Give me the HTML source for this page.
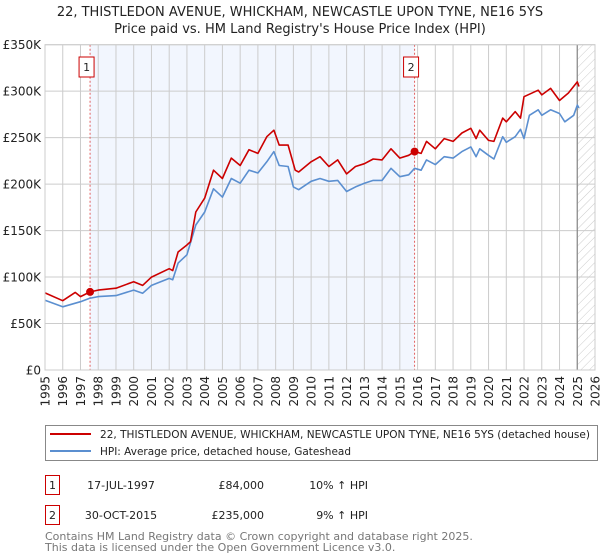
<!DOCTYPE html>
<html><head><meta charset="utf-8"><style>
body{margin:0;background:#fff;font-family:"Liberation Sans","DejaVu Sans",sans-serif;}
#wrap{position:relative;width:600px;height:560px;overflow:hidden;}
svg text{font-family:"DejaVu Sans","Liberation Sans",sans-serif;}
</style></head><body><div id="wrap">
<svg id="chart" width="600" height="560"></svg>
</div>
<script>
const yearTicks=[1995,1996,1997,1998,1999,2000,2001,2002,2003,2004,2005,2006,2007,2008,2009,2010,2011,2012,2013,2014,2015,2016,2017,2018,2019,2020,2021,2022,2023,2024,2025,2026];
const valueTicks=[0,50000,100000,150000,200000,250000,300000,350000];
const valueTickLabels=["£0","£50K","£100K","£150K","£200K","£250K","£300K","£350K"];
const hpiYears=[1995,1996,1997,1997.5,1998,1999,2000,2000.5,2001,2002,2002.2,2002.5,2003,2003.5,2004,2004.5,2005,2005.5,2006,2006.5,2007,2007.5,2007.9,2008.2,2008.7,2009,2009.3,2010,2010.5,2011,2011.5,2012,2012.5,2013,2013.5,2014,2014.5,2015,2015.5,2015.83,2016.2,2016.5,2017,2017.5,2018,2018.5,2019,2019.3,2019.5,2020,2020.3,2020.8,2021,2021.5,2021.8,2022,2022.3,2022.8,2023,2023.5,2024,2024.3,2024.8,2025,2025.1];
const hpiValues=[75000,68000,73500,77000,79000,80000,86000,82500,91000,98600,97000,115000,124000,156000,170000,195000,186000,206000,201000,215000,212000,224000,235000,220000,219000,197000,194000,203000,206000,203000,204000,192000,197000,201000,204000,204000,217000,208000,210000,217000,215000,226000,221000,229500,228000,235000,240000,229500,238000,231000,227000,251000,245000,251000,259000,249000,274000,280000,274000,280000,276000,267000,274000,285000,282000];
const priceYears=[1995,1996,1996.7,1997,1997.54,1998,1999,2000,2000.5,2001,2002,2002.2,2002.5,2003,2003.2,2003.5,2004,2004.5,2005,2005.5,2006,2006.5,2007,2007.5,2007.9,2008.2,2008.7,2009.1,2009.3,2010,2010.5,2011,2011.5,2012,2012.5,2013,2013.5,2014,2014.5,2015,2015.5,2015.83,2016.2,2016.5,2017,2017.5,2018,2018.5,2019,2019.3,2019.5,2020,2020.3,2020.8,2021,2021.5,2021.8,2022,2022.8,2023,2023.5,2024,2024.5,2025,2025.1];
const priceValues=[83000,74600,83500,79000,84000,86000,88000,95000,91000,100000,109000,107000,127000,134500,138000,170000,185000,215000,206000,228000,220000,237000,233000,251000,258000,242000,242000,215000,213000,224000,229500,219000,226000,211000,219000,222000,227000,226000,238000,228000,231000,235000,233000,246000,238000,249000,246000,255000,260000,249000,258000,247000,246000,271000,267000,278000,271000,294000,301000,296000,303000,290000,298000,310000,305000];
const saleYears=[1997.54,2015.83];
const saleValues=[84000,235000];
const saleLabels=["1","2"];

const NS="http://www.w3.org/2000/svg";
const svg=document.getElementById('chart');
const L=45,R=595,T=44.7,B=370;
const X=y=>L+(y-1995)/(2026-1995)*(R-L);
const Y=v=>B-v/350000*(B-T);
function mk(tag,attrs,parent){const e=document.createElementNS(NS,tag);for(const k in attrs)e.setAttribute(k,attrs[k]);(parent||svg).appendChild(e);return e;}

const defs=mk('defs',{});
const pat=mk('pattern',{id:'hatch',width:6,height:6,patternUnits:'userSpaceOnUse',patternTransform:'rotate(45)'},defs);
mk('line',{x1:0,y1:0,x2:0,y2:6,stroke:'#ccc','stroke-width':1},pat);

let shade=mk('rect',{x:X(saleYears[0]),y:T,width:X(saleYears[1])-X(saleYears[0]),height:B-T,fill:'#eef3fd',opacity:0.75});


let hatch=mk('rect',{x:X(2025.0),y:T,width:R-X(2025.0),height:B-T,fill:'url(#hatch)'});



yearTicks.forEach(yr=>{
  let g=mk('line',{x1:X(yr),x2:X(yr),y1:T,y2:B,stroke:'#cccccc','stroke-width':1});
  
  
  let t=mk('text',{x:0,y:0,'font-size':12,fill:'#222','text-anchor':'end',transform:`translate(${X(yr)+4.5},${B+6}) rotate(-90)`});
  t.textContent=yr;
  
  
});
valueTicks.forEach((v,i)=>{
  let g=mk('line',{x1:L,x2:R,y1:Y(v),y2:Y(v),stroke:'#cccccc','stroke-width':1});
  
  
  let t=mk('text',{x:L-4,y:Y(v)+4.5,'font-size':12,fill:'#222','text-anchor':'end'});
  t.textContent=valueTickLabels[i];
  
  
});
let vl=mk('line',{x1:X(2025.0),x2:X(2025.0),y1:T,y2:B,stroke:'#888','stroke-width':1.2});



saleYears.forEach((yr,i)=>{
  let l=mk('line',{x1:X(yr),x2:X(yr),y1:T,y2:B,stroke:'#e06060','stroke-width':1,'stroke-dasharray':'2,2'});
  
  
  let b=mk('rect',{x:X(yr)-11,y:57,width:15,height:20,fill:'#fff',stroke:'#c00','stroke-width':1});
  
  
  let t=mk('text',{x:X(yr)-3.5,y:71,'font-size':11,fill:'#222','text-anchor':'middle'});
  t.textContent=saleLabels[i];
  
  
});

function path(xs,vs){return xs.map((x,i)=>(i?'L':'M')+X(x).toFixed(1)+','+Y(vs[i]).toFixed(1)).join(' ');}
let hp=mk('path',{d:path(hpiYears,hpiValues),fill:'none',stroke:'#5b8fd0','stroke-width':1.6,'stroke-linejoin':'round'});


let pp=mk('path',{d:path(priceYears,priceValues),fill:'none',stroke:'#cc0000','stroke-width':1.6,'stroke-linejoin':'round'});


saleYears.forEach((yr,i)=>{
  let c=mk('circle',{cx:X(yr),cy:Y(saleValues[i]),r:4,fill:'#cc0000'});
  
  
});
let frame=mk('rect',{x:L,y:T,width:R-L,height:B-T,fill:'none',stroke:'#cccccc','stroke-width':1});



[["22, THISTLEDON AVENUE, WHICKHAM, NEWCASTLE UPON TYNE, NE16 5YS",16],["Price paid vs. HM Land Registry's House Price Index (HPI)",33]].forEach((s,i)=>{
  let t=mk('text',{x:300,y:s[1],'font-size':13,fill:'#222','text-anchor':'middle'});
  t.textContent=s[0];
  
  
});

let lg=mk('rect',{x:45.5,y:425.5,width:552,height:35,fill:'#fff',stroke:'#888','stroke-width':1});


[["22, THISTLEDON AVENUE, WHICKHAM, NEWCASTLE UPON TYNE, NE16 5YS (detached house)",'#cc0000',434,490],["HPI: Average price, detached house, Gateshead",'#5b8fd0',451,251]].forEach((s,i)=>{
  let l=mk('line',{x1:50,x2:91,y1:s[2],y2:s[2],stroke:s[1],'stroke-width':2});
  
  
  let t=mk('text',{x:100,y:s[2]+4,'font-size':11,fill:'#222',textLength:s[3],lengthAdjust:'spacingAndGlyphs'});
  t.textContent=s[0];
  
  
});

[["1","17-JUL-1997","£84,000","10% ↑ HPI",485],["2","30-OCT-2015","£235,000","9% ↑ HPI",515]].forEach(r=>{
  let b=mk('rect',{x:45.5,y:r[4]-9.5,width:14,height:19,fill:'#fff',stroke:'#c00','stroke-width':1});
  
  
  let t0=mk('text',{x:52.5,y:r[4]+4,'font-size':11,fill:'#222','text-anchor':'middle'});t0.textContent=r[0];
  
  
  let t1=mk('text',{x:121,y:r[4]+4,'font-size':11,fill:'#222','text-anchor':'middle'});t1.textContent=r[1];
  
  
  let t2=mk('text',{x:264,y:r[4]+4,'font-size':11,fill:'#222','text-anchor':'end'});t2.textContent=r[2];
  
  
  let t3=mk('text',{x:368,y:r[4]+4,'font-size':11,fill:'#222','text-anchor':'end'});t3.textContent=r[3];
  
  
});
[["Contains HM Land Registry data © Crown copyright and database right 2025.",540],["This data is licensed under the Open Government Licence v3.0.",551]].forEach(s=>{
  let t=mk('text',{x:45,y:s[1],'font-size':11,fill:'#777'});
  t.textContent=s[0];
  
  
});
</script></body></html>
